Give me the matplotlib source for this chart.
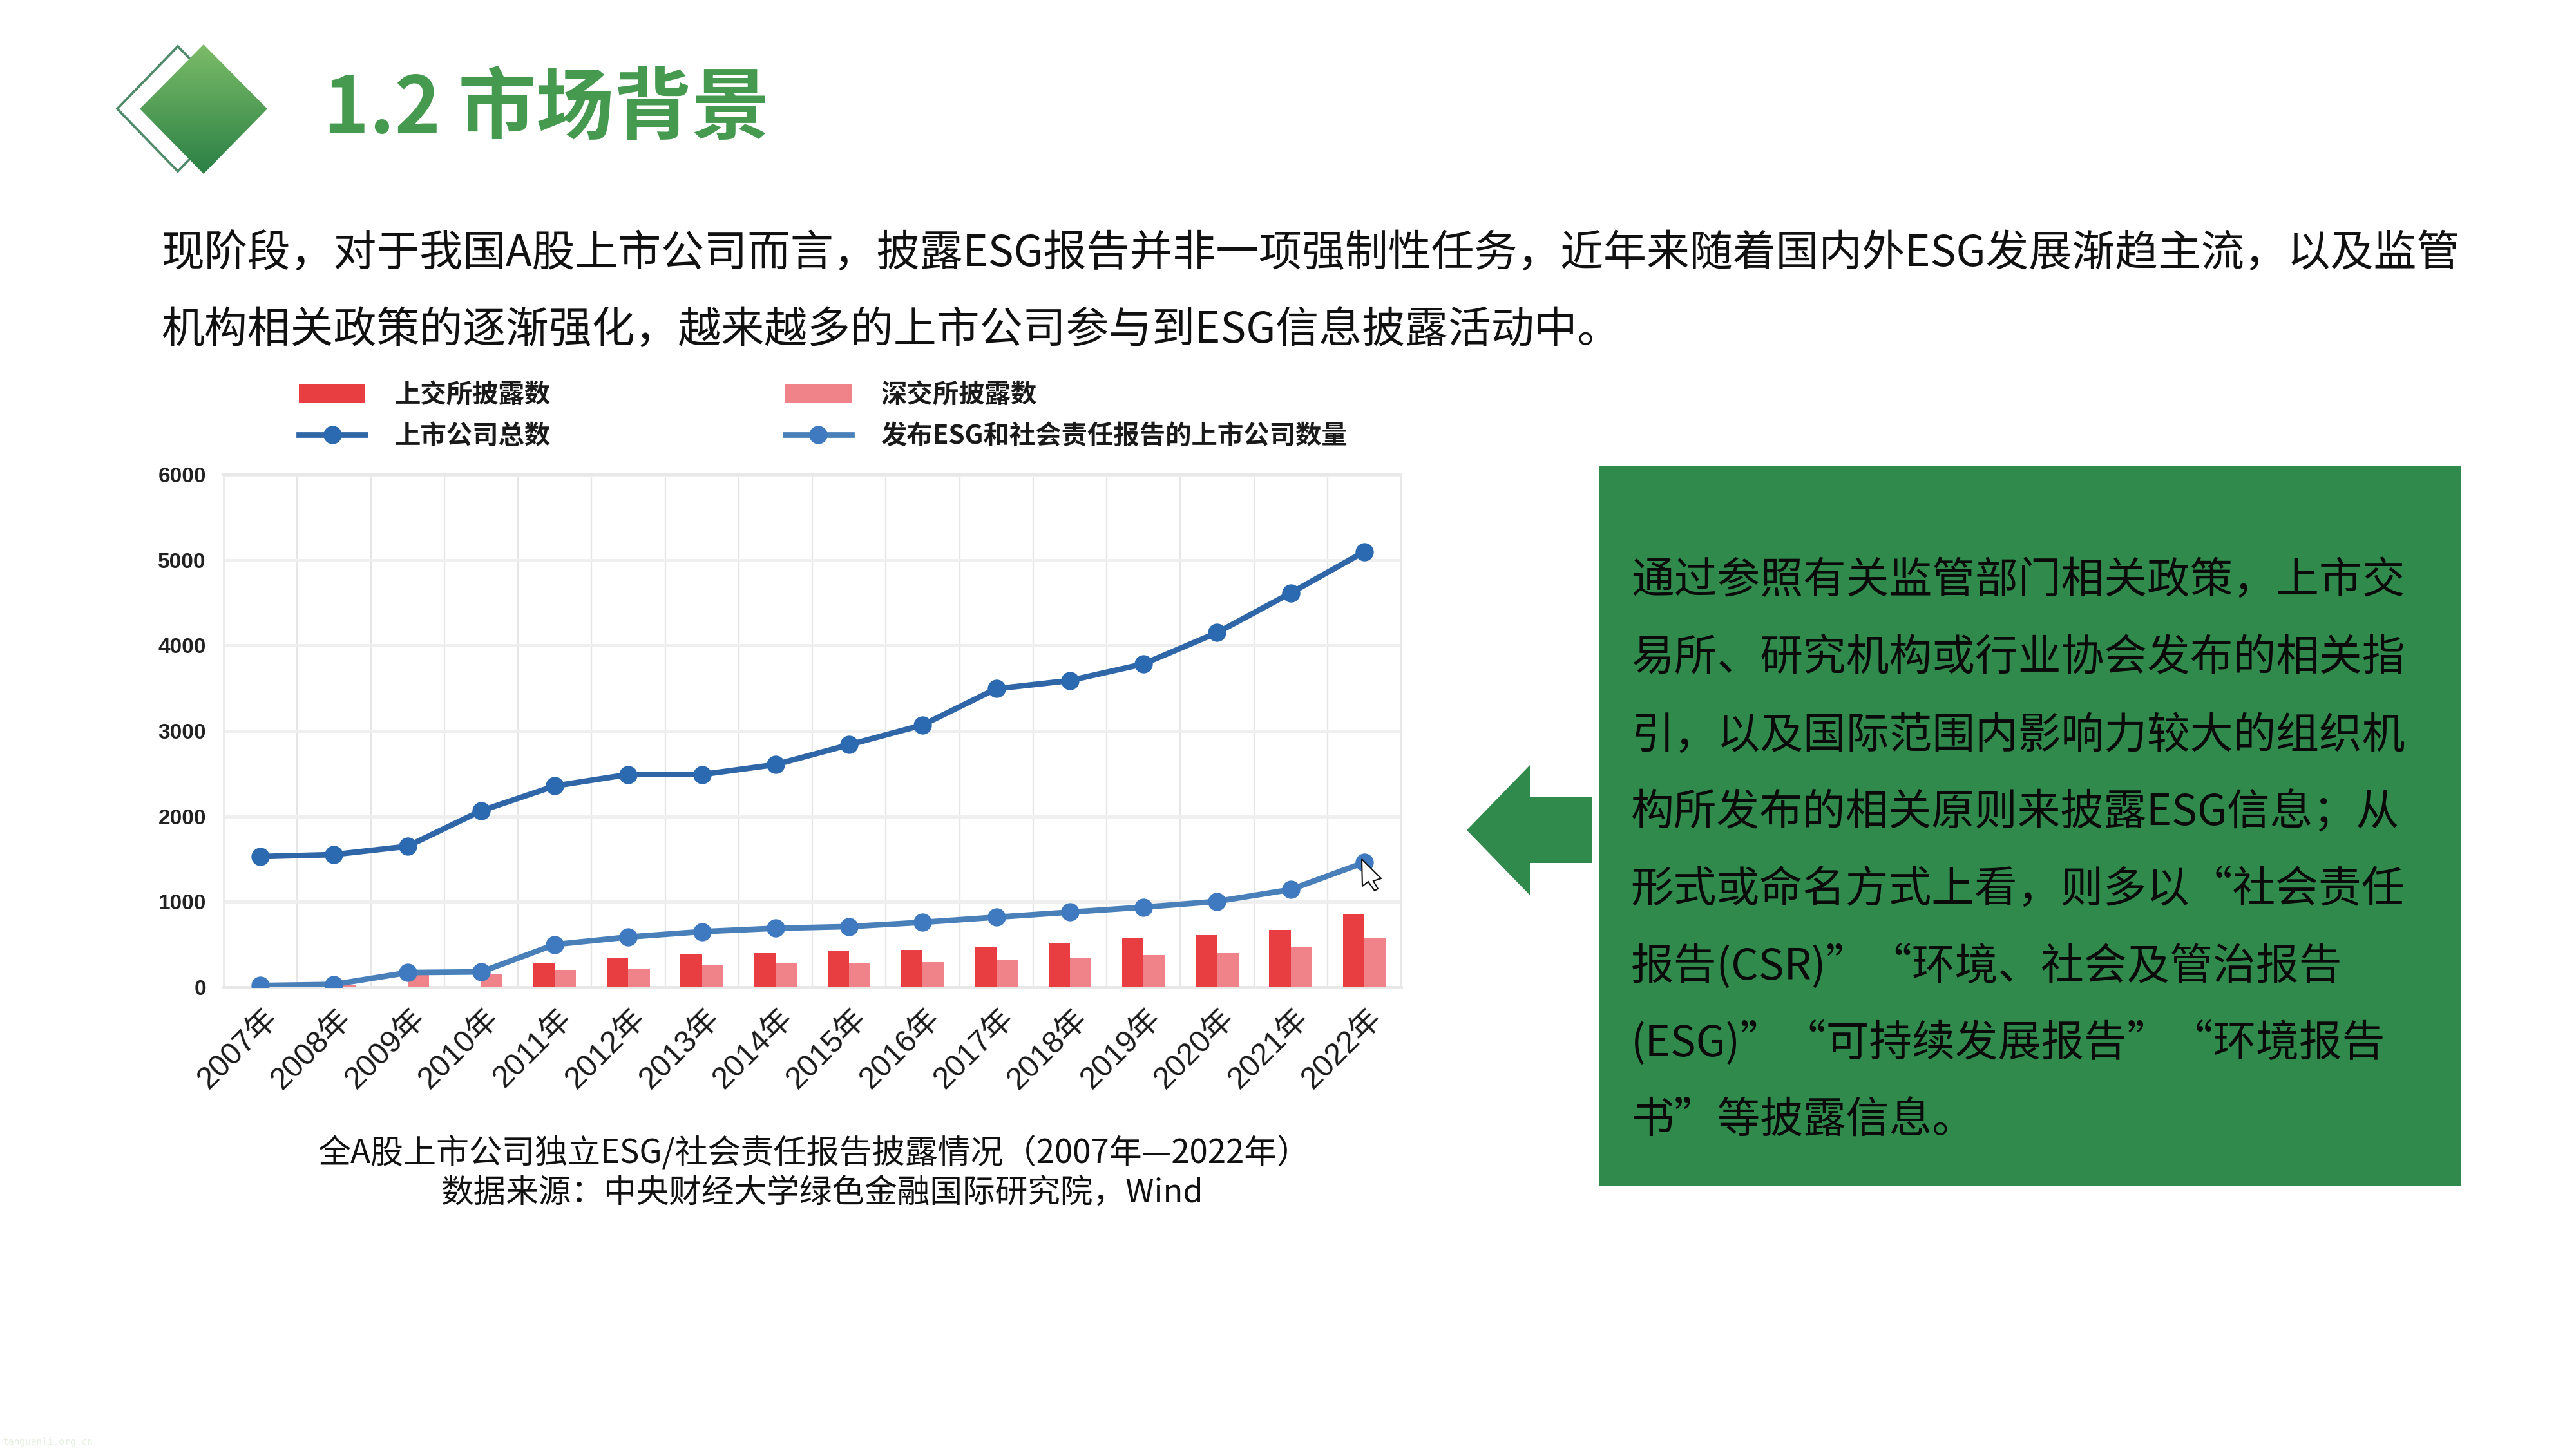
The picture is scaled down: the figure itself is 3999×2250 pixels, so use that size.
import matplotlib
matplotlib.use('Agg')
import matplotlib.pyplot as plt
import numpy as np
from matplotlib.patches import Polygon, Rectangle
from matplotlib.transforms import ScaledTranslation

plt.rcParams['font.family'] = ['Noto Sans CJK SC', 'DejaVu Sans']

# chart data
anos = ['2007年', '2008年', '2009年', '2010年', '2011年', '2012年', '2013年', '2014年',
        '2015年', '2016年', '2017年', '2018年', '2019年', '2020年', '2021年', '2022年']
sse_count = [8, 10, 10, 10, 280, 336, 381, 396, 419, 437, 475, 513, 570, 608, 669, 858]
szse_count = [5, 30, 172, 160, 205, 222, 260, 280, 280, 295, 320, 336, 379, 399, 472, 583]
total_companies = [1530, 1553, 1650, 2065, 2356, 2490, 2490, 2606, 2838, 3070, 3494, 3590, 3784, 4150, 4614, 5097]
esg_companies = [20, 33, 172, 180, 500, 588, 651, 690, 710, 760, 820, 879, 937, 1005, 1144, 1460]
y_ticks = [0, 1000, 2000, 3000, 4000, 5000, 6000]

titulo = '1.2 市场背景'
intro_lines = [
    '现阶段，对于我国A股上市公司而言，披露ESG报告并非一项强制性任务，近年来随着国内外ESG发展渐趋主流，以及监管',
    '机构相关政策的逐渐强化，越来越多的上市公司参与到ESG信息披露活动中。',
]
box_lines = [
    '通过参照有关监管部门相关政策，上市交',
    '易所、研究机构或行业协会发布的相关指',
    '引，以及国际范围内影响力较大的组织机',
    '构所发布的相关原则来披露ESG信息；从',
    '形式或命名方式上看，则多以“社会责任',
    '报告(CSR)”“环境、社会及管治报告',
    '(ESG)”“可持续发展报告”“环境报告',
    '书”等披露信息。',
]
caption_lines = [
    '全A股上市公司独立ESG/社会责任报告披露情况（2007年—2022年）',
    '数据来源：中央财经大学绿色金融国际研究院，Wind',
]

W, H = 3999, 2250
GREEN = '#2f8a4c'

fig = plt.figure(figsize=(W / 300, H / 300), dpi=300, facecolor='white')

# page layer in pixel coordinates
page = fig.add_axes([0, 0, 1, 1])
page.axis('off')

# header diamonds
page.add_patch(Polygon([(276, 72), (182, 169), (276, 266), (371, 169)], closed=True,
                       fc='none', ec='#4f8a6a', lw=0.9))
gradient = np.linspace(0, 1, 256).reshape(-1, 1)
cmap = matplotlib.colors.LinearSegmentedColormap.from_list('dia', ['#7cbc68', '#2a8045'])
im = page.imshow(gradient, cmap=cmap, extent=(217, 415, 270, 69), aspect='auto', zorder=2)
diamond = Polygon([(316, 69), (217, 169), (316, 270), (415, 169)], closed=True,
                  fc='none', ec='none', transform=page.transData)
page.add_patch(diamond)
im.set_clip_path(diamond)
page.set_xlim(0, W)
page.set_ylim(H, 0)

page.text(502, 206, titulo, color='#459a50', fontsize=29, fontweight='black', va='baseline')

for i, line in enumerate(intro_lines):
    page.text(250, 414 + i * 119, line, fontsize=16.05, color='#111111', va='baseline')

page.add_patch(Rectangle((2482, 724), 3820 - 2482, 1841 - 724, fc=GREEN, ec='none'))
for i, line in enumerate(box_lines):
    page.text(2532, 922 + i * 119.7, line, fontsize=16.03, color='#0a0a0a', va='baseline')

page.add_patch(Polygon([(2277, 1289), (2375, 1188), (2375, 1238), (2472, 1238),
                        (2472, 1340), (2375, 1340), (2375, 1390)], closed=True, fc=GREEN, ec='none'))

page.text(1264, 1792, caption_lines[0], fontsize=12.25, color='#111111', ha='center', va='center')
page.text(1276, 1853, caption_lines[1], fontsize=12.15, color='#111111', ha='center', va='center')

page.text(4, 2244, 'tanguanli.org.cn', fontsize=3.5, color='#e6efe2', family='DejaVu Sans Mono', va='baseline')

# chart
ax = fig.add_axes([347 / W, 1 - 1533 / H, 1828 / W, 796 / H])
x = np.arange(len(anos))
bar_w = 0.29
bars_sse = ax.bar(x - bar_w / 2, sse_count, bar_w, color='#e83e42', label='上交所披露数', zorder=3)
bars_szse = ax.bar(x + bar_w / 2, szse_count, bar_w, color='#ef8389', label='深交所披露数', zorder=3)
line_total, = ax.plot(x, total_companies, color='#2f66a8', lw=2.1, marker='o', ms=5.8,
                      mfc='#2b69b0', mec='#2b69b0', label='上市公司总数', zorder=4)
line_esg, = ax.plot(x, esg_companies, color='#4a80ba', lw=2.1, marker='o', ms=5.8,
                    mfc='#3f79bf', mec='#3f79bf', label='发布ESG和社会责任报告的上市公司数量', zorder=4)

ax.set_xlim(-0.5, len(anos) - 0.5)
ax.set_ylim(0, 6000)
ax.set_yticks(y_ticks)
ax.set_yticklabels([str(v) for v in y_ticks], family=['Liberation Sans', 'DejaVu Sans'],
                   fontweight='bold', fontsize=8, color='#222222')
ax.set_xticks(x)
ax.set_xticklabels(anos, rotation=45, ha='right', rotation_mode='anchor',
                   family=['Liberation Sans', 'Noto Sans CJK SC'], fontsize=11.5, color='#1a1a1a')
ax.set_xticks(np.arange(-0.5, len(anos)), minor=True)
ax.tick_params(axis='both', which='both', length=0)
ax.tick_params(axis='y', pad=6.5)
ax.tick_params(axis='x', pad=6.2)
shift = ScaledTranslation(4 / 300, 0, fig.dpi_scale_trans)
for lab in ax.get_xticklabels():
    lab.set_transform(lab.get_transform() + shift)

ax.grid(axis='y', which='major', color='#efefef', lw=1.2, zorder=0)
ax.grid(axis='x', which='minor', color='#e6e6e6', lw=0.55, zorder=0)
ax.grid(axis='x', which='major', visible=False)
ax.set_axisbelow(True)
for side, sp in ax.spines.items():
    sp.set_color('#e8e8e8')
    sp.set_linewidth(0.6)
ax.spines['bottom'].set_linewidth(1.2)
ax.spines['top'].set_linewidth(1.0)

leg = ax.legend(handles=[bars_sse, line_total, bars_szse, line_esg], ncols=2, loc='upper left',
                bbox_to_anchor=(0.064, 1.18), frameon=False, borderpad=0, borderaxespad=0,
                handlelength=2.55, handletextpad=1.13, columnspacing=9.0, labelspacing=0.55,
                prop={'size': 9.7, 'weight': 'bold'})
for t in leg.get_texts():
    t.set_color('#1a1a1a')

# mouse pointer left on the last point in the source screenshot
top = fig.add_axes([0, 0, 1, 1], zorder=5)
top.axis('off')
top.patch.set_alpha(0)
top.set_xlim(0, W)
top.set_ylim(H, 0)
top.add_patch(Polygon([(2114, 1334), (2115, 1376), (2124, 1369), (2134, 1383), (2139, 1380),
                       (2132, 1368), (2144, 1364)], closed=True, fc='white', ec='#111111', lw=0.5))

fig.savefig('out.png', dpi=300)
